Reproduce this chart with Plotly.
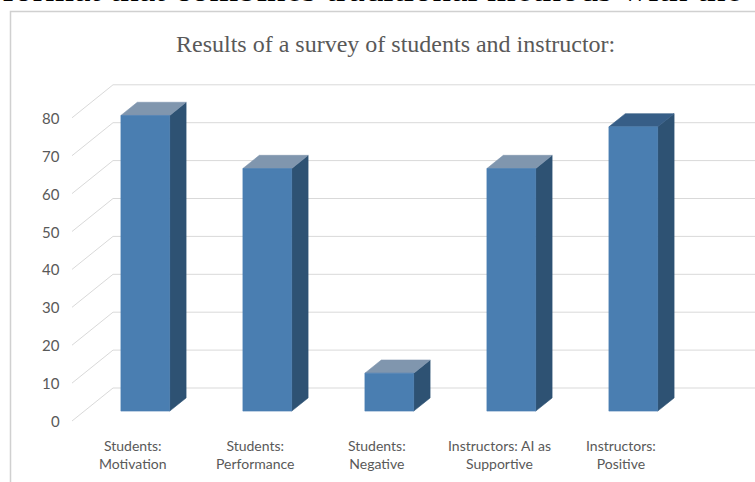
import plotly.graph_objects as go

# ---- data ----
categories = ["Students:<br>Motivation", "Students:<br>Performance", "Students:<br>Negative",
              "Instructors: AI as<br>Supportive", "Instructors:<br>Positive"]
values = [78, 64, 10, 64, 75]
y_ticks = [0, 10, 20, 30, 40, 50, 60, 70, 80]
title_text = "Results of a survey of students and instructor:"
doc_text = "format that combines traditional methods with the"

# ---- style / geometry ----
W, H = 755, 482
PX_CAT = 122.0          # pixels per category
X0_PX = 133.0           # pixel of category 0
PX_UNIT = 3.79          # pixels per value unit
Y0_PX = 421.0           # pixel of value 0 (front)
DX = 41.0 / PX_CAT      # depth offset (category units)
DY = 33.0 / PX_UNIT     # depth offset (value units)
F1, F2 = 0.3, 0.7       # bar depth front/back fractions
BW = 0.4                # bar width
GRID = "#d9d9d9"
FRONT = "#4a7eb1"
SIDE = "#2e5273"
TOP = "#8096ae"
TOP_LAST = "#375e87"
TXT = "#595959"

x_range = [(0 - X0_PX) / PX_CAT, (W - X0_PX) / PX_CAT]
y_range = [-(H - Y0_PX) / PX_UNIT, Y0_PX / PX_UNIT]

fig = go.Figure()

# gridlines (left wall diagonal + back wall horizontal)
left = -0.5
gx, gy = [], []
for v in y_ticks:
    gx += [left, left + DX, x_range[1] + 0.5, None]
    gy += [v, v + DY, v + DY, None]
fig.add_trace(go.Scatter(x=gx, y=gy, mode="lines", line=dict(color=GRID, width=1),
                         hoverinfo="skip"))

def poly(xs, ys, color):
    fig.add_trace(go.Scatter(x=xs + [xs[0]], y=ys + [ys[0]], mode="lines", fill="toself",
                             fillcolor=color, line=dict(color=color, width=0.6),
                             hoverinfo="skip"))

for i, v in enumerate(values):
    c = i
    xl1, xr1 = c - BW / 2 + F1 * DX, c + BW / 2 + F1 * DX
    xl2, xr2 = c - BW / 2 + F2 * DX, c + BW / 2 + F2 * DX
    yb1, yt1 = F1 * DY, v + F1 * DY
    yb2, yt2 = F2 * DY, v + F2 * DY
    # side
    poly([xr1, xr2, xr2, xr1], [yb1, yb2, yt2, yt1], SIDE)
    # top
    poly([xl1, xr1, xr2, xl2], [yt1, yt1, yt2, yt2], TOP_LAST if i == len(values) - 1 else TOP)
    # front
    poly([xl1, xr1, xr1, xl1], [yb1, yb1, yt1, yt1], FRONT)

annotations = []
for v in y_ticks:
    annotations.append(dict(x=left, y=v, xref="x", yref="y", text=str(v), showarrow=False,
                            xanchor="right", yanchor="middle", xshift=-10,
                            font=dict(family="Lato", size=15, color=TXT)))
for i, cat in enumerate(categories):
    annotations.append(dict(x=i, y=-(454 - Y0_PX) / PX_UNIT, xref="x", yref="y", text=cat,
                            showarrow=False, xanchor="center", yanchor="middle",
                            font=dict(family="Lato", size=14, color=TXT)))
annotations.append(dict(x=395 / W, y=1 - 44 / H, xref="paper", yref="paper", text=title_text,
                        showarrow=False, xanchor="center", yanchor="middle",
                        font=dict(family="Liberation Serif", size=24, color=TXT)))
annotations.append(dict(x=0, y=1 - 11 / H, xref="paper", yref="paper", text=doc_text,
                        showarrow=False, xanchor="left", yanchor="bottom",
                        font=dict(family="Liberation Serif", size=37, color="#000000")))

fig.update_layout(
    width=W, height=H,
    margin=dict(l=0, r=0, t=0, b=0),
    paper_bgcolor="white", plot_bgcolor="white",
    showlegend=False, hovermode=False,
    xaxis=dict(range=x_range, visible=False, fixedrange=True),
    yaxis=dict(range=y_range, visible=False, fixedrange=True),
    annotations=annotations,
    shapes=[dict(type="path", xref="paper", yref="paper",
                 path=f"M {10.5/W} 0 L {10.5/W} {1-11.5/H} L 1 {1-11.5/H}",
                 line=dict(color="#d0d0d0", width=1.5))],
)

fig.write_html("out.html")
